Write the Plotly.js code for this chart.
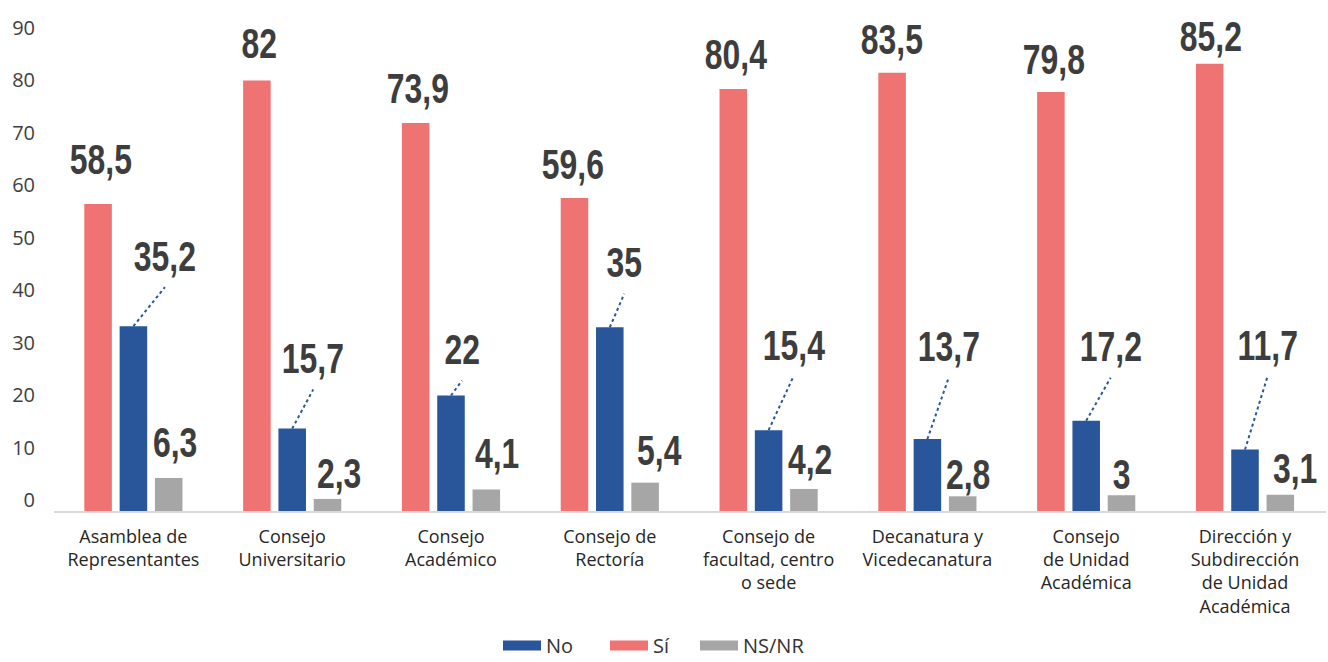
<!DOCTYPE html>
<html>
<head>
<meta charset="utf-8">
<script src="https://cdn.plot.ly/plotly-3.0.1.min.js"></script>
<style>
html,body{margin:0;padding:0;background:#fff}
#chart{width:1328px;height:662px}
/* condensed look for the value labels */
#chart .annotation-text{transform-box:fill-box;transform-origin:50% 50%;transform:scaleX(0.76)}
</style>
</head>
<body>
<div id="chart"></div>
<script>
// ---- data ----
const categories = [
  'Asamblea de<br>Representantes',
  'Consejo<br>Universitario',
  'Consejo<br>Académico',
  'Consejo de<br>Rectoría',
  'Consejo de<br>facultad, centro<br>o sede',
  'Decanatura y<br>Vicedecanatura',
  'Consejo<br>de Unidad<br>Académica',
  'Dirección y<br>Subdirección<br>de Unidad<br>Académica'
];
const siValues   = [58.5, 82, 73.9, 59.6, 80.4, 83.5, 79.8, 85.2];
const noValues   = [35.2, 15.7, 22, 35, 15.4, 13.7, 17.2, 11.7];
const nsnrValues = [6.3, 2.3, 4.1, 5.4, 4.2, 2.8, 3, 3.1];
const yTickValues = [0, 10, 20, 30, 40, 50, 60, 70, 80, 90];
const seriesNames = ['No', 'Sí', 'NS/NR'];

// ---- label placement nudges (pixels: [dx from category centre, dy up from bar top]) ----
const siLabelShift   = [[-32.5,44],[-33,37.5],[-33,34.5],[-36.5,33.5],[-33,34.5],[-35.5,33.5],[-32.5,33],[-34.5,27]];
const noLabelShift   = [[31.5,70],[21,70],[11,46],[14.5,64.5],[25,85],[21.5,93],[24.5,74],[22.5,104]];
const nsnrLabelShift = [[41.5,35.5],[47,25],[46,36],[50,32],[41,29],[41,22],[35,21],[50,26]];
const leaderGap = 31;

// ---- styles ----
const colNo = '#29569a', colSi = '#ee7372', colNs = '#a6a6a6';
const labelFont = {family:'"Liberation Sans",Arial,sans-serif', size:42, color:'#3d3d3d', weight:700};
const fmt = v => String(v).replace('.', ',');

const traces = [
  {type:'bar', name:seriesNames[1], x:categories, y:siValues, marker:{color:colSi}, showlegend:false, hoverinfo:'skip'},
  {type:'bar', name:seriesNames[0], x:categories, y:noValues, marker:{color:colNo}, showlegend:false, hoverinfo:'skip'},
  {type:'bar', name:seriesNames[2], x:categories, y:nsnrValues, marker:{color:colNs}, showlegend:false, hoverinfo:'skip'},
  // legend entries (wide swatches)
  {type:'scatter', mode:'lines', name:seriesNames[0], x:[null], y:[null], line:{color:colNo, width:10}, hoverinfo:'skip', legend:'legend'},
  {type:'scatter', mode:'lines', name:seriesNames[1], x:[null], y:[null], line:{color:colSi, width:10}, hoverinfo:'skip', legend:'legend2'},
  {type:'scatter', mode:'lines', name:seriesNames[2], x:[null], y:[null], line:{color:colNs, width:10}, hoverinfo:'skip', legend:'legend3'}
];

const annotations = [];
const shapes = [];
categories.forEach((c, i) => {
  annotations.push({x:c, y:siValues[i], xref:'x', yref:'y', text:fmt(siValues[i]), showarrow:false,
    xshift:siLabelShift[i][0], yshift:siLabelShift[i][1], xanchor:'center', yanchor:'middle', font:labelFont});
  annotations.push({x:c, y:noValues[i], xref:'x', yref:'y', text:fmt(noValues[i]), showarrow:false,
    xshift:noLabelShift[i][0], yshift:noLabelShift[i][1], xanchor:'center', yanchor:'middle', font:labelFont});
  annotations.push({x:c, y:nsnrValues[i], xref:'x', yref:'y', text:fmt(nsnrValues[i]), showarrow:false,
    xshift:nsnrLabelShift[i][0], yshift:nsnrLabelShift[i][1], xanchor:'center', yanchor:'middle', font:labelFont});
  shapes.push({type:'line', xref:'x', yref:'y', xsizemode:'pixel', ysizemode:'pixel',
    xanchor:c, yanchor:noValues[i], x0:0, y0:0, x1:noLabelShift[i][0], y1:noLabelShift[i][1]-leaderGap,
    line:{color:colNo, width:2, dash:'dot'}, layer:'above'});
});

const legendBase = {orientation:'h', xref:'container', yref:'container', xanchor:'left', y:0.025, yanchor:'middle',
  font:{size:20, color:'#333333'}, itemwidth:38, bgcolor:'rgba(0,0,0,0)'};

const layout = {
  width:1328, height:662,
  margin:{l:54, r:2, t:28, b:151, pad:0},
  paper_bgcolor:'#ffffff', plot_bgcolor:'#ffffff',
  barmode:'group', bargap:0.333, bargroupgap:0.22,
  font:{family:'"Open Sans","Noto Sans",sans-serif', color:'#404040'},
  xaxis:{type:'category', showline:true, linecolor:'#d9d9d9', linewidth:2, showgrid:false, zeroline:false,
    ticks:'', tickfont:{size:18, color:'#262626'}, ticklabelstandoff:8, fixedrange:true},
  yaxis:{range:[0,92], tickmode:'array', tickvals:yTickValues, ticktext:yTickValues.map(String),
    showgrid:false, zeroline:false, showline:false, ticks:'', tickfont:{size:20, color:'#404040'},
    ticklabelstandoff:18, ticklabelshift:-11, fixedrange:true},
  showlegend:true,
  legend:Object.assign({}, legendBase, {x:498/1328}),
  legend2:Object.assign({}, legendBase, {x:605/1328}),
  legend3:Object.assign({}, legendBase, {x:695/1328}),
  annotations:annotations,
  shapes:shapes
};

Plotly.newPlot('chart', traces, layout, {displayModeBar:false, staticPlot:true});
</script>
</body>
</html>
